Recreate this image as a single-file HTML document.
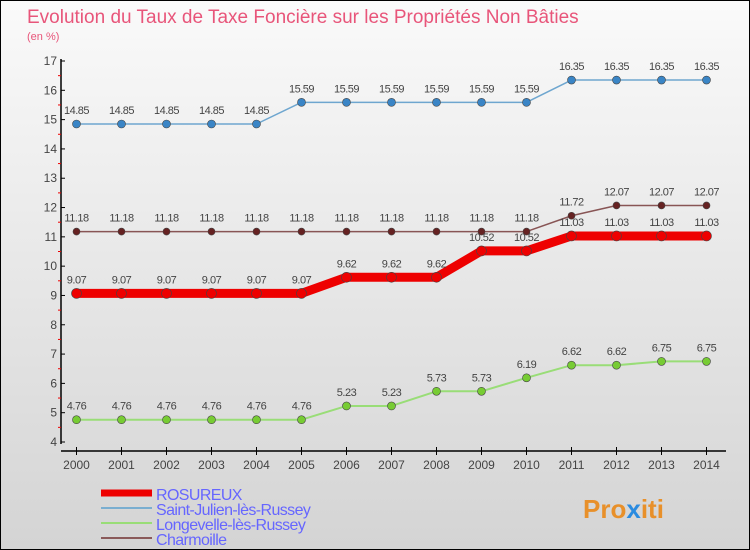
<!DOCTYPE html>
<html><head><meta charset="utf-8"><style>
body{margin:0}
#c{width:750px;height:550px;position:relative;overflow:hidden;font-family:"Liberation Sans",sans-serif;background:linear-gradient(#fafafa,#d4d4d4);box-sizing:border-box;border:1px solid #000}
</style></head><body>
<div id="c">
<svg id="s" width="750" height="550" style="position:absolute;left:0;top:0">
<text x="26" y="22" font-size="19" fill="#e8557a">Evolution du Taux de Taxe Foncière sur les Propriétés Non Bâties</text>
<text x="26" y="39" font-size="11" fill="#e8557a">(en %)</text>
<text x="582" y="517" font-size="26" font-weight="bold" fill="#e8902a">Pro<tspan fill="#2a8be0">x</tspan>iti</text>
</svg>
</div>
<script>
const years=[2000,2001,2002,2003,2004,2005,2006,2007,2008,2009,2010,2011,2012,2013,2014];
const yTicks=[4,5,6,7,8,9,10,11,12,13,14,15,16,17];
const rosureux=[9.07,9.07,9.07,9.07,9.07,9.07,9.62,9.62,9.62,10.52,10.52,11.03,11.03,11.03,11.03];
const stJulien=[14.85,14.85,14.85,14.85,14.85,15.59,15.59,15.59,15.59,15.59,15.59,16.35,16.35,16.35,16.35];
const longevelle=[4.76,4.76,4.76,4.76,4.76,4.76,5.23,5.23,5.73,5.73,6.19,6.62,6.62,6.75,6.75];
const charmoille=[11.18,11.18,11.18,11.18,11.18,11.18,11.18,11.18,11.18,11.18,11.18,11.72,12.07,12.07,12.07];
const NS="http://www.w3.org/2000/svg",s=document.getElementById('s');
const X=i=>75.5+i*45, Y=v=>441-(v-4)*(381/13);
function el(t,a,p){const e=document.createElementNS(NS,t);for(const k in a)e.setAttribute(k,a[k]);(p||s).appendChild(e);return e;}
let e;
e=el('line',{x1:60,y1:58,x2:60,y2:443,stroke:'#000','stroke-width':1.5});


e=el('line',{x1:60,y1:450,x2:725,y2:450,stroke:'#000','stroke-width':1.5});


yTicks.forEach((v,i)=>{
  el('line',{x1:60,y1:Y(v),x2:64,y2:Y(v),stroke:'#000'});
  if(i<yTicks.length-1)el('line',{x1:57,y1:Y(v+0.5),x2:60,y2:Y(v+0.5),stroke:'#e00'});
  e=el('text',{x:56,y:Y(v)+4,'text-anchor':'end','font-size':12,fill:'#444'});e.textContent=v;
  
  
});
years.forEach((yr,i)=>{
  el('line',{x1:X(i),y1:446,x2:X(i),y2:454,stroke:'#000'});
  e=el('text',{x:X(i),y:468,'text-anchor':'middle','font-size':12,fill:'#444'});e.textContent=yr;
  
  
});
function series(d,name,col,w,dot,r){
  const g=el('g',{});
  
  
  el('polyline',{points:d.map((v,i)=>X(i)+','+Y(v)).join(' '),fill:'none',stroke:col,'stroke-width':w,'stroke-linejoin':'round'},g);
  d.forEach((v,i)=>{
    const c=el('circle',{cx:X(i),cy:Y(v),r:r,fill:dot,stroke:'#444','stroke-width':0.6},g);
    
    
    const t=el('text',{x:X(i),y:Y(v)-10,'text-anchor':'middle','font-size':11,fill:'#444','letter-spacing':'-0.5'},g);
    t.textContent=v.toFixed(2).replace(/0$/,'').replace(/\.$/,'');
    
    
  });
}
series(longevelle,'longevelle','#99dd77',2,'#77cc33',4);
series(stJulien,'saint-julien','#6ea6cf',1.5,'#3a85c6',4);
series(charmoille,'charmoille','#885555',1.5,'#662222',3.5);
series(rosureux,'rosureux','#ee0000',9,'#ee0000',5);
const leg=[['ROSUREUX','#ee0000',7],['Saint-Julien-lès-Russey','#7aaed0',2],['Longevelle-lès-Russey','#99dd77',2],['Charmoille','#8a5a5a',2]];
leg.forEach((l,i)=>{
  const y=492+i*15;
  const g=el('g',{});
  
  
  el('line',{x1:100,y1:y,x2:151,y2:y,stroke:l[1],'stroke-width':l[2]},g);
  const t=el('text',{x:155,y:y+7,'font-size':16,fill:'#6666ff','letter-spacing':'-0.6'},g);t.textContent=l[0];
});
</script>
</body></html>
